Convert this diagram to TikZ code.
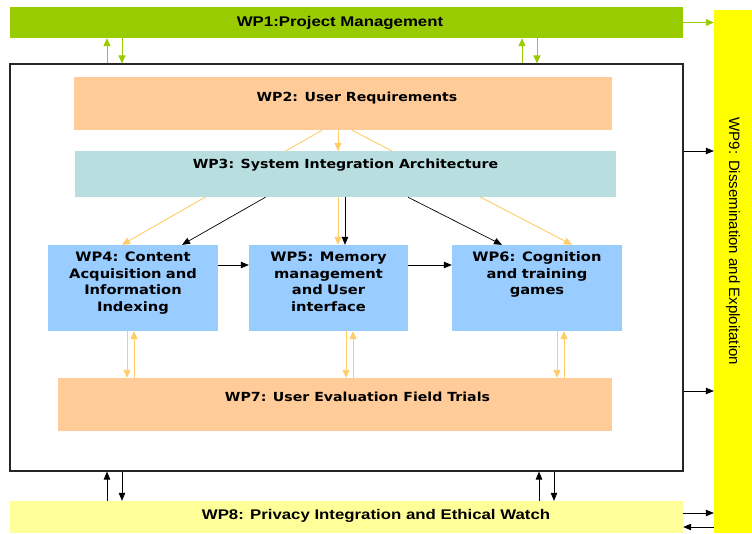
\documentclass[tikz,border=0pt]{standalone}
\usepackage{fontspec}
\setmainfont[FakeStretch=1.13]{DejaVu Sans}
\newfontfamily\arialfont[FakeStretch=1.2]{Liberation Sans}
\newfontfamily\sidefont{Liberation Sans}
\usetikzlibrary{arrows.meta,backgrounds}
\definecolor{wpgreen}{HTML}{99CC00}
\definecolor{wpyellow}{HTML}{FFFF00}
\definecolor{wppale}{HTML}{FFFF99}
\definecolor{wppeach}{HTML}{FFCC99}
\definecolor{wpteal}{HTML}{B8DEE0}
\definecolor{wpblue}{HTML}{99CCFF}
\definecolor{wporange}{HTML}{FFCC66}
\begin{document}
\begin{tikzpicture}[
            x=1pt,
            y=-1pt,
            wpbox/.style={inner sep=0pt, align=center, font=\bfseries\fontsize{12.5}{16.5}\selectfont},
            peach/.style={wpbox, fill=wppeach},
            task/.style={wpbox, fill=wpblue, minimum width=170pt, minimum height=86pt, text width=150pt, text height=9.5pt, text depth=62pt, font=\bfseries\fontsize{13}{16.6}\selectfont},
            olink/.style={draw=wporange, line width=0.9pt, -{Triangle[length=8pt,width=7pt]}},
            blink/.style={draw=black, line width=0.7pt, -{Triangle[length=8pt,width=6.5pt]}},
            glink/.style={draw=wpgreen, line width=0.9pt, -{Triangle[length=8pt,width=7pt]}}
        ]
        \useasboundingbox (0,0) rectangle (752,533);
        % outer boxes
        \node[wpbox, fill=wpgreen, minimum width=673pt, minimum height=31pt, font=\arialfont\bfseries\fontsize{14}{16}\selectfont] (wp1) at (346.5,22.5) {WP1:Project Management\hspace*{13pt}};
        \node[wpbox, fill=wpyellow, minimum width=523pt, minimum height=38pt, rotate=-90, font=\sidefont\fontsize{15}{17}\selectfont] (wp9) at (733,271.5) {WP9: Dissemination and Exploitation\hspace*{60pt}};
        \node[draw=black!85, line width=1.1pt, minimum width=673pt, minimum height=407pt, inner sep=0pt] (frame) at (346.5,267.5) {};
        \node[wpbox, fill=wppale, minimum width=673pt, minimum height=32pt, text height=10pt, text depth=6pt, font=\arialfont\bfseries\fontsize{14}{16}\selectfont] (wp8) at (346.5,517) {\hspace*{59pt}WP8: Privacy Integration and Ethical Watch};
        % inner boxes
        \node[peach, minimum width=538pt, minimum height=53pt, text height=9.5pt, text depth=13pt] (wp2) at (343,103.5) {\hspace*{28pt}WP2: User Requirements};
        \node[wpbox, fill=wpteal, minimum width=541pt, minimum height=46pt, text height=9.5pt, text depth=20pt] (wp3) at (345.5,174) {WP3: System Integration Architecture};
        \node[task] (wp4) at (133,288) {WP4: Content\\Acquisition and\\Information\\Indexing};
        \node[task, minimum width=159pt] (wp5) at (328.5,288) {WP5: Memory\\management\\and User\\interface};
        \node[task] (wp6) at (537,288) {WP6: Cognition\\and training\\games};
        \node[peach, minimum width=554pt, minimum height=53pt, text height=9.5pt, text depth=15pt] (wp7) at (335,404.5) {\hspace*{45pt}WP7: User Evaluation Field Trials};
        % lines from WP2 running behind WP3
        \begin{scope}[on background layer]
            \draw[olink] ([xshift=-21pt]wp2.south) -- ([xshift=-11pt]wp4.north);
            \draw[olink] ([xshift=-5pt]wp2.south) -- ([xshift=9.5pt]wp5.north);
            \draw[olink] ([xshift=9pt]wp2.south) -- ([xshift=35pt]wp6.north);
        \end{scope}
        \draw[olink] ([xshift=-5pt]wp2.south) -- ([xshift=-7.5pt]wp3.north);
        % WP3 to the tasks
        \draw[blink] ([xshift=-80pt]wp3.south) -- ([xshift=49pt]wp4.north);
        \draw[blink] ([xshift=-0.5pt]wp3.south) -- ([xshift=16.5pt]wp5.north);
        \draw[blink] ([xshift=62.5pt]wp3.south) -- ([xshift=-35pt]wp6.north);
        \draw[blink] ([yshift=23pt]wp4.east) -- ([yshift=23pt]wp5.west);
        \draw[blink] ([yshift=23pt]wp5.east) -- ([yshift=23pt]wp6.west);
        % tasks and WP7
        \foreach \t/\d in {wp4/-6, wp5/17.5, wp6/20} {
            \draw[olink] ([xshift=\d pt]\t.south) -- ([xshift=\d pt]\t.south |- wp7.north);
            \draw[olink] ([xshift=\d pt+7pt]\t.south |- wp7.north) -- ([xshift=\d pt+7pt]\t.south);
        }
        % WP1 and WP8 with the frame
        \foreach \x in {107,522} {
            \draw[glink] (frame.north -| \x,0) -- (wp1.south -| \x,0);
            \draw[glink] (wp1.south -| \x+15,0) -- (frame.north -| \x+15,0);
        }
        \foreach \x in {107,539} {
            \draw[blink] (wp8.north -| \x,0) -- (frame.south -| \x,0);
            \draw[blink] (frame.south -| \x+15,0) -- (wp8.north -| \x+15,0);
        }
        % links to WP9
        \draw[glink] (wp1.east) -- (wp1.east -| wp9.south);
        \draw[blink] (frame.east |- 0,151) -- (wp9.south |- 0,151);
        \draw[blink] (frame.east |- 0,391) -- (wp9.south |- 0,391);
        \draw[blink] ([yshift=4pt]wp8.east) -- ([yshift=4pt]wp8.east -| wp9.south);
        \draw[blink] ([yshift=-10pt]wp8.east -| wp9.south) -- ([yshift=-10pt]wp8.east);
    \end{tikzpicture}
\end{document}
